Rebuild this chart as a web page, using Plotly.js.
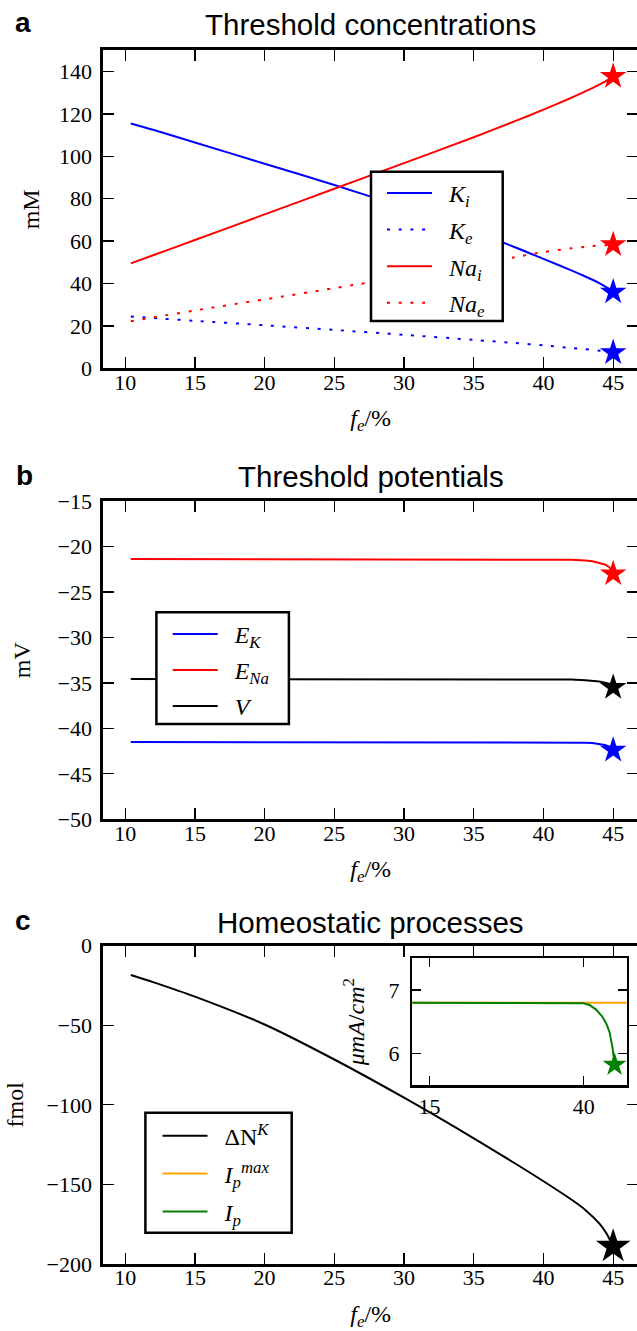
<!DOCTYPE html>
<html><head><meta charset="utf-8">
<script src="https://cdn.plot.ly/plotly-3.0.1.min.js"></script>
<style>
html,body{margin:0;padding:0;overflow:hidden;background:#fff}
#chart{width:660px;height:1331px}
#chart .xtick text, #chart .ytick text{font-family:"Liberation Serif",serif !important;font-size:22px !important;fill:#000 !important}
</style>
</head><body><div id="chart"></div>
<script>
// ---------- data ----------
// Panel a: threshold concentrations (mM) vs f_e (%)
const feA  = [10.4, 12, 15, 20, 25, 30, 35, 38, 40, 42, 43, 44, 44.5, 45];
const Ki   = [115.5, 112.5, 106.5, 96.5, 86.5, 75.8, 64.5, 57.0, 51.6, 46.2, 43.3, 40.2, 38.3, 36.0];
const Ke   = [24.4, 23.7, 22.4, 20.3, 18.1, 15.8, 13.4, 11.9, 10.8, 9.6, 9.0, 8.3, 7.9, 7.4];
const Nai  = [49.5, 53.3, 60.5, 72.6, 84.7, 96.8, 109.0, 116.7, 122.0, 127.6, 130.6, 133.8, 135.6, 137.7];
const Nae  = [22.2, 24.0, 27.3, 32.5, 37.8, 43.3, 49.0, 52.5, 54.8, 56.6, 57.3, 57.9, 58.1, 58.3];
// Panel b: threshold potentials (mV)
const feB  = [10.4, 20, 30, 38, 40, 41, 42, 43, 43.5, 44, 44.4, 44.7, 44.9, 45];
const EK   = [-41.5, -41.5, -41.5, -41.5, -41.5, -41.52, -41.54, -41.58, -41.62, -41.72, -41.82, -41.98, -42.15, -42.4];
const ENa  = [-21.38, -21.38, -21.38, -21.39, -21.4, -21.42, -21.46, -21.55, -21.63, -21.82, -21.98, -22.25, -22.6, -23.0];
const Vth  = [-34.57, -34.57, -34.57, -34.58, -34.59, -34.6, -34.63, -34.7, -34.76, -34.85, -34.97, -35.1, -35.28, -35.5];
// Panel c: homeostatic processes
const feC  = [10.4, 12, 15, 20, 25, 30, 35, 38, 40, 42, 43, 44, 44.5, 45];
const dNK  = [-18.4, -22.9, -32.0, -49.5, -71.5, -95.5, -121.0, -137.0, -148.0, -159.5, -166.0, -174.5, -180.5, -189.0];
// Inset: pump currents (uA/cm^2)
const feIp    = [10.4, 20, 30, 37, 39, 40, 41, 42, 43, 43.7, 44.2, 44.5, 44.7, 44.85, 45];
const Ip      = [6.8, 6.8, 6.8, 6.8, 6.795, 6.79, 6.76, 6.69, 6.58, 6.46, 6.33, 6.2, 6.07, 5.95, 5.82];
const feIpMax = [10.4, 50];
const IpMax   = [6.8, 6.8];
// tick values
const xTicks   = [10, 15, 20, 25, 30, 35, 40, 45];
const yTicksA  = [0, 20, 40, 60, 80, 100, 120, 140];
const yTicksB  = [-50, -45, -40, -35, -30, -25, -20, -15];
const yTicksC  = [-200, -150, -100, -50, 0];
const xTicksIn = [15, 40];
const yTicksIn = [6, 7];

// ---------- layout helpers ----------
const W = 660, H = 1331;
const px = v => v / W;
const py = v => 1 - v / H;
const last = a => a[a.length - 1];

const BLUE = '#0000ff', RED = '#ff0000', BLACK = '#000000', ORANGE = '#ffa500', GREEN = '#008000';
const SERIF = 'Liberation Serif';
const SANS = 'Liberation Sans';
const DOT = '3px,8.7px';
const NB = '\u00a0\u00a0';

function line(x, y, name, color, xa, ya, leg, grp, dash, shape) {
  return {x, y, name: NB + name, type: 'scatter', mode: 'lines', xaxis: xa, yaxis: ya,
    line: {color, width: 2, dash: dash || 'solid', shape: shape || 'linear', smoothing: 0.8},
    legend: leg, legendgroup: grp, showlegend: true, hoverinfo: 'skip'};
}
function star(x, y, color, xa, ya, size) {
  return {x: [last(x)], y: [last(y)], type: 'scatter', mode: 'markers', xaxis: xa, yaxis: ya,
    marker: {symbol: 'star', size: size || 20, color, line: {width: 0}}, showlegend: false, hoverinfo: 'skip'};
}

const traces = [
  line(feA, Ki, '<i>K</i><sub><i>i</i></sub>', BLUE, 'x', 'y', 'legend', 'a1', null, 'spline'),
  line(feA, Ke, '<i>K</i><sub><i>e</i></sub>', BLUE, 'x', 'y', 'legend', 'a2', DOT, 'spline'),
  line(feA, Nai, '<i>Na</i><sub><i>i</i></sub>', RED, 'x', 'y', 'legend', 'a3', null, 'spline'),
  line(feA, Nae, '<i>Na</i><sub><i>e</i></sub>', RED, 'x', 'y', 'legend', 'a4', DOT, 'spline'),
  star(feA, Nai, RED, 'x', 'y'), star(feA, Nae, RED, 'x', 'y'),
  star(feA, Ki, BLUE, 'x', 'y'), star(feA, Ke, BLUE, 'x', 'y'),

  line(feB, EK, '<i>E</i><sub><i>K</i></sub>', BLUE, 'x2', 'y2', 'legend2', 'b1'),
  line(feB, ENa, '<i>E</i><sub><i>Na</i></sub>', RED, 'x2', 'y2', 'legend2', 'b2'),
  line(feB, Vth, '<i>V</i>', BLACK, 'x2', 'y2', 'legend2', 'b3'),
  star(feB, ENa, RED, 'x2', 'y2'), star(feB, Vth, BLACK, 'x2', 'y2'), star(feB, EK, BLUE, 'x2', 'y2'),

  line(feC, dNK, 'ΔN<sup><i>K</i></sup>', BLACK, 'x3', 'y3', 'legend3', 'c1', null, 'spline'),
  star(feC, dNK, BLACK, 'x3', 'y3', 26),
  line(feIpMax, IpMax, '<i>I</i><sub><i>p</i></sub><sup><i>max</i></sup>', ORANGE, 'x4', 'y4', 'legend3', 'c2'),
  line(feIp, Ip, '<i>I</i><sub><i>p</i></sub>', GREEN, 'x4', 'y4', 'legend3', 'c3'),
  star(feIp, Ip, GREEN, 'x4', 'y4', 18)
];

function tf() { return {family: SERIF, size: 22, color: BLACK}; }
function xAxis(dom, anchor) {
  return {domain: dom, anchor, range: [8.43, 46.78], tickvals: xTicks, ticks: 'inside', ticklen: 11, tickwidth: 1.3,
    tickcolor: BLACK, showline: true, linewidth: 3, linecolor: BLACK, mirror: 'allticks', showgrid: false, zeroline: false,
    tickfont: tf(), ticklabelstandoff: -8,
    title: {text: '<i>f</i><sub><i>e</i></sub>/%', font: {family: SERIF, size: 24, color: BLACK}, standoff: 16}};
}
function yAxis(dom, anchor, range, vals, ttl, so) {
  return {domain: dom, anchor, range, tickvals: vals, ticks: 'inside', ticklen: 11, tickwidth: 1.3,
    tickcolor: BLACK, showline: true, linewidth: 3, linecolor: BLACK, mirror: 'allticks', showgrid: false, zeroline: false,
    tickfont: tf(), ticklabelstandoff: 4,
    title: {text: ttl, font: {family: SERIF, size: 24, color: BLACK}, standoff: so}};
}
const xDom = [px(103.3), px(638)];
function leg(x, yTop, gap) {
  return {bgcolor: 'rgba(0,0,0,0)', bordercolor: BLACK, borderwidth: 0, font: {family: SERIF, size: 24, color: BLACK},
    xanchor: 'left', yanchor: 'top', itemwidth: 45, tracegroupgap: gap, x: px(x), y: py(yTop)};
}
function frame(x0, y0, x1, y1) {
  return {type: 'rect', xref: 'paper', yref: 'paper', x0: px(x0), x1: px(x1), y0: py(y1), y1: py(y0),
    fillcolor: '#ffffff', line: {color: BLACK, width: 2.5}, layer: 'above'};
}
function ann(text, x, y, size) {
  return {text, x: px(x), y: py(y), xref: 'paper', yref: 'paper', showarrow: false,
    xanchor: 'center', yanchor: 'middle', font: {family: SANS, size, color: BLACK}};
}

const layout = {
  width: W, height: H, margin: {l: 0, r: 0, t: 0, b: 0}, paper_bgcolor: '#fff', plot_bgcolor: '#fff',
  font: {family: SERIF, size: 22, color: BLACK},
  xaxis: xAxis(xDom, 'y'),
  yaxis: yAxis([py(368.3), py(50.3)], 'x', [0, 150], yTicksA, 'mM', 13),
  xaxis2: xAxis(xDom, 'y2'),
  yaxis2: yAxis([py(819.3), py(501)], 'x2', [-50, -15], yTicksB, 'mV', 21),
  xaxis3: xAxis(xDom, 'y3'),
  yaxis3: yAxis([py(1264), py(945.7)], 'x3', [-200, 0], yTicksC, 'fmol', 17),
  xaxis4: {domain: [px(412.3), px(626.9)], anchor: 'y4', range: [12.2, 47.0], tickvals: xTicksIn, ticks: 'inside', ticklen: 9,
    tickwidth: 1.3, tickcolor: BLACK, showline: true, linewidth: 2.5, linecolor: BLACK, mirror: 'allticks', showgrid: false,
    zeroline: false, tickfont: tf()},
  yaxis4: {domain: [py(1085), py(958.3)], anchor: 'x4', range: [5.5, 7.5], tickvals: yTicksIn, ticks: 'inside', ticklen: 9,
    tickwidth: 1.3, tickcolor: BLACK, showline: true, linewidth: 2.5, linecolor: BLACK, mirror: 'allticks', showgrid: false,
    zeroline: false, tickfont: tf(), ticklabelstandoff: 6,
    title: {text: '<i>μmA</i>/<i>cm</i><sup>2</sup>', font: {family: SERIF, size: 24, color: BLACK}, standoff: 17}},
  legend: leg(382, 170.9, 2.4),
  legend2: leg(167.7, 611.9, 1.8),
  legend3: leg(157.5, 1113.6, 3.7),
  shapes: [frame(371, 171.7, 502.7, 321), frame(156.4, 612.3, 288.9, 724), frame(145.4, 1112.7, 291.7, 1232.7)],
  annotations: [
    ann('Threshold concentrations', 370.5, 25, 29.5),
    ann('Threshold potentials', 370.5, 476.7, 29.5),
    ann('Homeostatic processes', 370.5, 922, 29.5),
    ann('<b>a</b>', 23, 22.5, 28),
    ann('<b>b</b>', 24, 475.3, 28),
    ann('<b>c</b>', 23, 920.3, 28)
  ]
};

Plotly.newPlot('chart', traces, layout, {staticPlot: true, displayModeBar: false});
</script></body></html>
